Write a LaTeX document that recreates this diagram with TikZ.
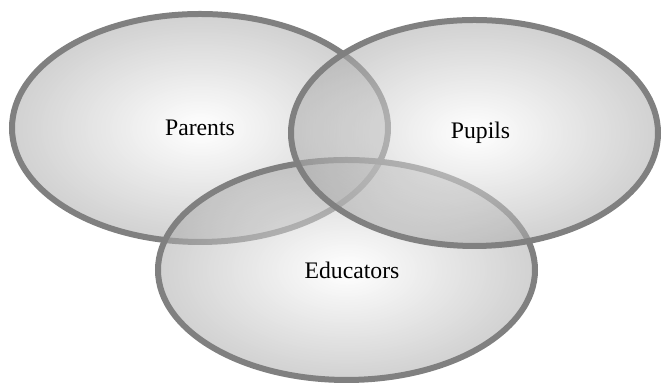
\documentclass[tikz,border=0pt]{standalone}
\usepackage{fontspec}
\setmainfont{Liberation Serif}
\usepackage{tikz}
\usetikzlibrary{shapes.geometric}

\begin{document}
\begin{tikzpicture}[
			setnode/.style={ellipse, draw=gray, line width=0.12cm, inner sep=0pt, shade, inner color=white, outer color=black!33, fill opacity=0.55, text opacity=1, font=\fontsize{13.5}{16}\selectfont}
		]
		\useasboundingbox (0,0) rectangle (13.3,7.72);

		\node[setnode, minimum width=7.52cm, minimum height=4.56cm] (parents) at (4.00,5.16) {Parents};
		\node[setnode, minimum width=7.54cm, minimum height=4.40cm] (educators) at (6.93,2.32) {\hspace{0.22cm}Educators};
		\node[setnode, minimum width=7.34cm, minimum height=4.52cm] (pupils) at (9.49,5.06) {\hspace{0.24cm}Pupils};
	\end{tikzpicture}
\end{document}
